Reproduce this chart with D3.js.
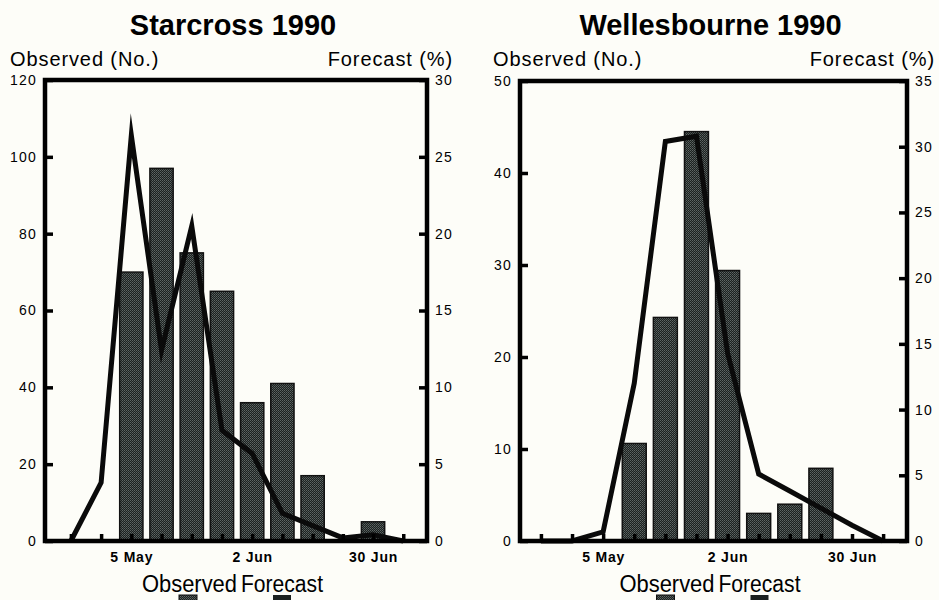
<!DOCTYPE html>
<html>
<head>
<meta charset="utf-8">
<script src="https://cdn.jsdelivr.net/npm/d3@7"></script>
<style>
  body { margin: 0; background: #fdfdf8; }
  svg { display: block; font-family: "Liberation Sans", Arial, sans-serif; }
</style>
</head>
<body>
<svg width="939" height="600"></svg>
<script>
// Weekly dates (1990) shared by both sites
var weeks = ["1990-04-21", "1990-04-28", "1990-05-05", "1990-05-12", "1990-05-19", "1990-05-26",
             "1990-06-02", "1990-06-09", "1990-06-16", "1990-06-23", "1990-06-30", "1990-07-07"];
var dateLabels = ["1990-05-05", "1990-06-02", "1990-06-30"];

// Starcross: observed counts (bars) and forecast % (line)
var starcrossObserved = [0, 0, 70, 97, 75, 65, 36, 41, 17, 0, 5, 0];
var starcrossForecast = [0, 3.8, 26.4, 12.4, 20.5, 7.2, 5.7, 1.8, 1.0, 0.2, 0.4, 0];
var starcrossLeftTicks = [0, 20, 40, 60, 80, 100, 120];
var starcrossRightTicks = [0, 5, 10, 15, 20, 25, 30];

// Wellesbourne
var wellesObserved = [0, 0, 0, 10.6, 24.3, 44.5, 29.4, 3.0, 4.0, 7.9, 0, 0];
var wellesForecast = [0, 0, 0.7, 12.0, 30.4, 30.8, 14.3, 5.1, 3.8, 2.5, 1.2, 0];
var wellesLeftTicks = [0, 10, 20, 30, 40, 50];
var wellesRightTicks = [0, 5, 10, 15, 20, 25, 30, 35];

var parse = d3.timeParse("%Y-%m-%d");
var fmt = d3.timeFormat("%-d %b");

var svg = d3.select("svg");

// Stippled fill for the observed bars
var defs = svg.append("defs");
var pat = defs.append("pattern")
    .attr("id", "stipple")
    .attr("width", 2).attr("height", 2)
    .attr("patternUnits", "userSpaceOnUse");
pat.append("rect").attr("width", 2).attr("height", 2).attr("fill", "#1c2120");
pat.append("rect").attr("width", 1).attr("height", 1).attr("fill", "#5e6664");
pat.append("rect").attr("x", 1).attr("y", 1).attr("width", 1).attr("height", 1).attr("fill", "#4a5250");

var panels = [
  {title: "Starcross 1990", observed: starcrossObserved, forecast: starcrossForecast,
   leftTicks: starcrossLeftTicks, rightTicks: starcrossRightTicks,
   left: 45, right: 427, top: 80, bottom: 541,
   start: new Date(1990, 3, 15, 0), end: new Date(1990, 6, 12, 12),
   obsLabelX: 10, fcLabelX: 453},
  {title: "Wellesbourne 1990", observed: wellesObserved, forecast: wellesForecast,
   leftTicks: wellesLeftTicks, rightTicks: wellesRightTicks,
   left: 520, right: 907, top: 81, bottom: 541,
   start: new Date(1990, 3, 16, 7), end: new Date(1990, 6, 12, 9),
   obsLabelX: 493, fcLabelX: 935}
];

panels.forEach(function(p) {
  var g = svg.append("g");

  var x = d3.scaleTime().domain([p.start, p.end]).range([p.left, p.right]);
  var yL = d3.scaleLinear().domain([0, d3.max(p.leftTicks)]).range([p.bottom, p.top]);
  var yR = d3.scaleLinear().domain([0, d3.max(p.rightTicks)]).range([p.bottom, p.top]);

  var weekPx = x(parse(weeks[1])) - x(parse(weeks[0]));
  var barW = weekPx * 0.77;
  var mid = (p.left + p.right) / 2;

  // Title
  g.append("text")
      .attr("x", mid - 3).attr("y", 35)
      .attr("text-anchor", "middle")
      .style("font-size", "29px").style("font-weight", "bold")
      .text(p.title);

  // Axis titles
  g.append("text")
      .attr("x", p.obsLabelX).attr("y", 66)
      .style("font-size", "20px").style("letter-spacing", "0.9px")
      .text("Observed (No.)");
  g.append("text")
      .attr("x", p.fcLabelX).attr("y", 66)
      .attr("text-anchor", "end")
      .style("font-size", "20px").style("letter-spacing", "0.9px")
      .text("Forecast (%)");

  // Bars
  var data = weeks.map(function(w, i) {
    return {date: parse(w), obs: p.observed[i], fc: p.forecast[i]};
  });

  g.selectAll("rect.bar")
    .data(data.filter(function(d) { return d.obs > 0; }))
    .enter().append("rect")
      .attr("class", "bar")
      .attr("x", function(d) { return x(d.date) - barW / 2; })
      .attr("y", function(d) { return yL(d.obs); })
      .attr("width", barW)
      .attr("height", function(d) { return p.bottom - yL(d.obs); })
      .attr("fill", "url(#stipple)")
      .attr("stroke", "#111")
      .attr("stroke-width", 1.5);

  // Forecast line
  var line = d3.line()
      .x(function(d) { return x(d.date); })
      .y(function(d) { return yR(d.fc); });
  g.append("path")
      .datum(data)
      .attr("d", line)
      .attr("fill", "none")
      .attr("stroke", "#0a0a0a")
      .attr("stroke-width", 5)
      .attr("stroke-linejoin", "miter")
      .attr("stroke-miterlimit", 10);

  // Left axis (ticks pointing inward)
  var axL = g.append("g")
      .attr("transform", "translate(" + p.left + ",0)")
      .call(d3.axisLeft(yL).tickValues(p.leftTicks).tickSize(-8).tickPadding(8));
  // Right axis
  var axR = g.append("g")
      .attr("transform", "translate(" + p.right + ",0)")
      .call(d3.axisRight(yR).tickValues(p.rightTicks).tickSize(-8).tickPadding(8));
  // Bottom axis: weekly ticks upward, labels every four weeks
  var axB = g.append("g")
      .attr("transform", "translate(0," + p.bottom + ")")
      .call(d3.axisBottom(x).tickValues(weeks.map(parse)).tickSize(-7).tickFormat(""));

  [axL, axR, axB].forEach(function(a) {
    a.select(".domain").remove();
    a.selectAll(".tick line").attr("stroke", "#000").attr("stroke-width", 3.5);
    a.selectAll(".tick text").style("font-size", "14px").style("letter-spacing", "1.2px").attr("fill", "#000");
  });

  g.append("g")
      .attr("transform", "translate(0," + p.bottom + ")")
      .call(d3.axisBottom(x).tickValues(dateLabels.map(parse)).tickSize(0).tickPadding(11).tickFormat(fmt))
      .call(function(a) { a.select(".domain").remove(); })
      .selectAll("text")
      .attr("fill", "#000")
      .style("font-size", "14px").style("font-weight", "bold").style("letter-spacing", "0.8px");

  // Frame
  g.append("rect")
      .attr("x", p.left).attr("y", p.top)
      .attr("width", p.right - p.left).attr("height", p.bottom - p.top)
      .attr("fill", "none")
      .attr("stroke", "#000")
      .attr("stroke-width", 4.5);

  // Legend (swatches run off the bottom edge, as in the original)
  g.append("rect")
      .attr("x", mid - 57).attr("y", 595)
      .attr("width", 18).attr("height", 10)
      .attr("fill", "url(#stipple)").attr("stroke", "#111");
  g.append("rect")
      .attr("x", mid + 37).attr("y", 595)
      .attr("width", 18).attr("height", 10)
      .attr("fill", "#1c2120");
  g.append("text")
      .attr("x", mid - 94).attr("y", 592)
      .attr("textLength", 95).attr("lengthAdjust", "spacingAndGlyphs")
      .style("font-size", "23px")
      .text("Observed");
  g.append("text")
      .attr("x", mid + 5).attr("y", 592)
      .attr("textLength", 82).attr("lengthAdjust", "spacingAndGlyphs")
      .style("font-size", "23px")
      .text("Forecast");
});
</script>
</body>
</html>
